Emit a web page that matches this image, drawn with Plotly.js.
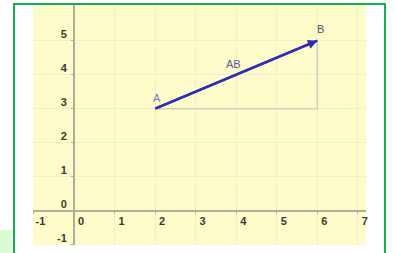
<!DOCTYPE html>
<html>
<head>
<meta charset="utf-8">
<script src="https://cdn.plot.ly/plotly-3.0.1.min.js"></script>
<style>html,body{margin:0;padding:0;background:#fff;}#chart{width:395px;height:253px;}</style>
</head>
<body>
<div id="chart"></div>
<script>
// Data
var pointNames = ["A", "B"];
var pointX = [2, 6];
var pointY = [3, 5];
var vectorName = "AB";
var xTickVals = [-1, 0, 1, 2, 3, 4, 5, 6, 7];
var yTickVals = [-1, 0, 1, 2, 3, 4, 5];

var A = {x: pointX[0], y: pointY[0]};
var B = {x: pointX[1], y: pointY[1]};

var xRange = [-1.01, 7.2];
var yRange = [-1.01, 6.05];

var traces = [
  { // helper right-angle lines (components)
    x: [A.x, B.x, B.x], y: [A.y, A.y, B.y],
    mode: 'lines', line: {color: '#d2d0bc', width: 1.5},
    hoverinfo: 'skip', showlegend: false
  },
  { // vector body
    x: [A.x, B.x], y: [A.y, B.y],
    mode: 'lines', line: {color: '#2f2fb4', width: 2.5},
    hoverinfo: 'skip', showlegend: false
  }
];

var fontFam = 'Liberation Sans, Arial, sans-serif';
var annotations = [
  {x: B.x, y: B.y, ax: A.x, ay: A.y, xref: 'x', yref: 'y', axref: 'x', ayref: 'y',
   text: '', showarrow: true, arrowhead: 2, arrowsize: 0.75, arrowwidth: 2.5, arrowcolor: '#2f2fb4', standoff: 0, startstandoff: 0},
  {x: A.x, y: A.y, xref: 'x', yref: 'y', text: pointNames[0], showarrow: false, xshift: 2, yshift: 11,
   font: {family: fontFam, size: 11, color: '#7d7dc2'}},
  {x: B.x, y: B.y, xref: 'x', yref: 'y', text: pointNames[1], showarrow: false, xshift: 3, yshift: 12,
   font: {family: fontFam, size: 11, color: '#555566'}},
  {x: (A.x + B.x) / 2, y: (A.y + B.y) / 2, xref: 'x', yref: 'y', text: vectorName, showarrow: false, xshift: -3, yshift: 11,
   font: {family: fontFam, size: 11, color: '#5a5aa8'}}
];

var axisCommon = {
  showgrid: true, gridcolor: '#f2eec6', gridwidth: 1,
  zeroline: false, showline: true, linecolor: '#b0ae98', linewidth: 2,
  ticks: 'outside', ticklen: 2, tickcolor: '#b0ae98', tickwidth: 1,
  tickfont: {family: fontFam, size: 11, color: '#3a3a32', weight: 'bold'},
  anchor: 'free', fixedrange: true
};

var layout = {
  width: 395, height: 253,
  margin: {l: 33, r: 29, t: 5, b: 8},
  paper_bgcolor: '#ffffff',
  plot_bgcolor: '#fefcca',
  showlegend: false,
  xaxis: Object.assign({}, axisCommon, {
    range: xRange, tickmode: 'array', tickvals: xTickVals, ticktext: xTickVals.map(String),
    position: (0 - yRange[0]) / (yRange[1] - yRange[0]), ticklabelshift: 7, ticklabelstandoff: -2
  }),
  yaxis: Object.assign({}, axisCommon, {
    range: yRange, tickmode: 'array', tickvals: yTickVals, ticktext: yTickVals.map(String),
    position: (0 - xRange[0]) / (xRange[1] - xRange[0]), ticklabelshift: -7, ticklabelstandoff: 2
  }),
  annotations: annotations,
  shapes: [
    {type: 'rect', xref: 'paper', yref: 'paper', x0: -0.057, x1: 1.057, y0: -0.1, y1: 1.004,
     line: {color: '#12b050', width: 2}, fillcolor: 'rgba(0,0,0,0)', layer: 'above'},
    {type: 'rect', xref: 'paper', yref: 'paper', x0: -0.11, x1: -0.063, y0: -0.05, y1: 0.0625,
     line: {width: 0}, fillcolor: '#dafbd3', layer: 'above'}
  ]
};

Plotly.newPlot('chart', traces, layout, {displayModeBar: false, staticPlot: true});
</script>
</body>
</html>
